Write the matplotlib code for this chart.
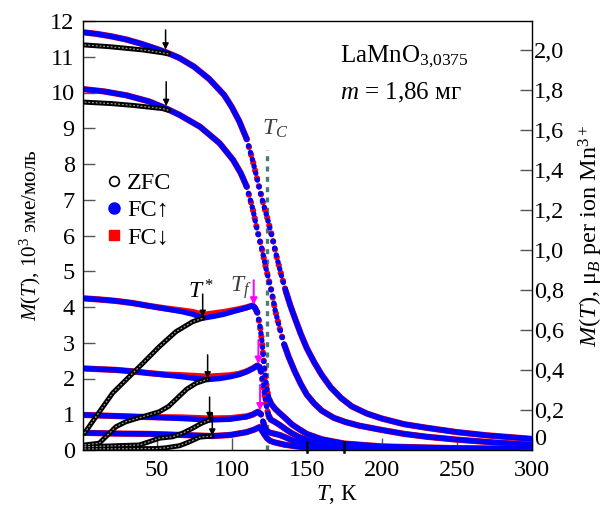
#!/usr/bin/env python3
"""M(T) of LaMnO3.0375: ZFC / FC-cooling / FC-warming curves at several fields."""

import numpy as np
import matplotlib.pyplot as plt
from matplotlib.lines import Line2D

plt.rcParams["font.family"] = ["Liberation Serif", "DejaVu Serif"]
plt.rcParams["mathtext.fontset"] = "custom"
plt.rcParams["mathtext.rm"] = "Liberation Serif"
plt.rcParams["mathtext.it"] = "Liberation Serif:italic"

# ---- data (T in K, M in 10^3 emu/mol) ----
# group 1 (largest field)
T_g1 = [2, 10, 20, 30, 40, 50, 56, 65, 75, 85, 95, 100, 105, 110, 114, 118, 121, 124, 127,
        130, 133, 136, 139, 142, 146, 150, 155, 160, 166, 173, 180, 190, 200, 215, 230, 250, 270, 300]
fc_up_g1 = [11.68, 11.64, 11.57, 11.48, 11.36, 11.22, 11.13, 10.97, 10.72, 10.38, 9.93, 9.6, 9.2,
            8.7, 8.1, 7.4, 6.9, 6.45, 5.95, 5.4, 4.9, 4.45, 4.05, 3.7, 3.25, 2.85, 2.45, 2.1, 1.75,
            1.45, 1.22, 1.02, 0.88, 0.72, 0.62, 0.5, 0.41, 0.31]
T_zfc_g1 = [2, 19, 41, 54, 58]
zfc_g1 = [11.33, 11.28, 11.19, 11.11, 11.08]

# group 2
T_g2 = [2, 15, 30, 45, 56, 65, 79, 92, 101, 106, 110, 114, 117, 120, 123, 126.5, 129, 132, 135,
        138, 142, 146, 150, 155, 160, 168, 176, 185, 200, 215, 230, 250, 275, 300]
fc_up_g2 = [10.09, 10.03, 9.92, 9.75, 9.56, 9.38, 9.04, 8.58, 8.11, 7.75, 7.37, 6.75, 6.15, 5.65,
            5.05, 4.45, 3.9, 3.4, 2.95, 2.6, 2.2, 1.85, 1.55, 1.3, 1.1, 0.9, 0.78, 0.68, 0.56,
            0.45, 0.37, 0.29, 0.21, 0.15]
T_zfc_g2 = [2, 20, 34, 54, 58]
zfc_g2 = [9.73, 9.69, 9.64, 9.55, 9.5]

# group 3
T_g3 = [2, 12, 23, 34, 45, 56, 67, 74, 81, 88, 95, 100, 105, 110, 114, 115.5, 117, 118, 119, 120,
        121, 122, 123, 124, 125, 126.5, 129, 132, 136, 140, 145, 150, 160, 175, 200, 250, 300]
fc_up_g3 = [4.24, 4.21, 4.17, 4.11, 4.03, 3.95, 3.87, 3.8, 3.69, 3.74, 3.8, 3.86, 3.92, 3.98,
            4.04, 3.98, 3.85, 3.65, 3.42, 3.1, 2.65, 2.2, 1.85, 1.6, 1.42, 1.28, 1.15, 1.03,
            0.88, 0.72, 0.58, 0.45, 0.3, 0.18, 0.1, 0.05, 0.03]
fc_dn_g3 = [4.24, 4.21, 4.17, 4.11, 4.03, 3.96, 3.9, 3.86, 3.78, 3.82, 3.86, 3.9, 3.94, 3.99,
            4.04, 3.98, 3.85, 3.65, 3.42, 3.1, 2.65, 2.2, 1.85, 1.6, 1.42, 1.28, 1.15, 1.03,
            0.88, 0.72, 0.58, 0.45, 0.3, 0.18, 0.1, 0.05, 0.03]
T_zfc_g3 = [2, 9.6, 20.7, 29.6, 40.7, 51.8, 62.9, 74, 81]
zfc_g3 = [0.47, 0.93, 1.59, 1.96, 2.42, 2.89, 3.31, 3.59, 3.69]

# group 4
T_g4 = [2, 12, 23, 34, 45, 56, 67, 76, 84, 92, 99, 105, 110, 114, 117, 118.5, 119.5, 120.5,
        121.5, 122.5, 123.5, 124.5, 126, 129, 132, 136, 140, 145, 150, 160, 175, 200, 300]
fc_up_g4 = [2.28, 2.26, 2.24, 2.2, 2.15, 2.1, 2.05, 2.0, 1.97, 2.0, 2.05, 2.11, 2.19, 2.28, 2.36,
            2.33, 2.2, 1.95, 1.65, 1.38, 1.15, 0.98, 0.85, 0.78, 0.7, 0.58, 0.47, 0.36, 0.28,
            0.18, 0.1, 0.06, 0.02]
fc_dn_g4 = [2.28, 2.26, 2.24, 2.2, 2.15, 2.11, 2.09, 2.07, 2.05, 2.07, 2.09, 2.13, 2.2, 2.28, 2.36,
            2.33, 2.2, 1.95, 1.65, 1.38, 1.15, 0.98, 0.85, 0.78, 0.7, 0.58, 0.47, 0.36, 0.28,
            0.18, 0.1, 0.06, 0.02]
T_zfc_g4 = [2, 11.8, 16.2, 22.9, 29.6, 40.7, 51.8, 58, 65, 70, 76.4, 84]
zfc_g4 = [0.14, 0.19, 0.37, 0.65, 0.79, 0.93, 1.07, 1.22, 1.5, 1.7, 1.87, 1.98]

# group 5
T_g5 = [2, 23, 45, 67, 85, 99, 110, 114, 117.5, 119.5, 121, 122, 123, 124.5, 127, 132, 136,
        140, 145, 150, 160, 180, 220, 300]
fc_up_g5 = [0.98, 0.95, 0.92, 0.88, 0.84, 0.86, 0.93, 0.99, 1.07, 1.0, 0.78, 0.65, 0.56, 0.5,
            0.47, 0.42, 0.35, 0.28, 0.21, 0.16, 0.1, 0.05, 0.03, 0.01]
fc_dn_g5 = [0.98, 0.95, 0.92, 0.91, 0.88, 0.89, 0.94, 0.99, 1.07, 1.0, 0.78, 0.65, 0.56, 0.5,
            0.47, 0.42, 0.35, 0.28, 0.21, 0.16, 0.1, 0.05, 0.03, 0.01]
T_zfc_g5 = [2, 38.4, 45, 51.8, 60.7, 67.3, 74, 80, 85.3]
zfc_g5 = [0.09, 0.14, 0.23, 0.33, 0.37, 0.47, 0.61, 0.75, 0.84]

# group 6 (smallest field)
T_g6 = [2, 23, 45, 67, 87, 99, 110, 115, 118.5, 120.5, 122, 123.5, 125.5, 128, 135, 145, 160,
        180, 300]
fc_up_g6 = [0.48, 0.46, 0.45, 0.42, 0.39, 0.42, 0.5, 0.57, 0.64, 0.52, 0.42, 0.33, 0.26, 0.22,
            0.15, 0.09, 0.05, 0.03, 0.01]
T_zfc_g6 = [2, 50, 56, 65.3, 72, 78.7, 87]
zfc_g6 = [0.03, 0.04, 0.06, 0.12, 0.23, 0.36, 0.39]

# arrows: T position, tail M, head M
black_arrow_T = [56, 56.4, 80.7, 84, 85.3, 87.1]
black_arrow_from = [11.75, 10.3, 4.36, 2.66, 1.48, 1.03]
black_arrow_to = [11.2, 9.62, 3.72, 2.0, 0.86, 0.4]
tf_arrow_T = [114.7, 117.8, 118.9]
tf_arrow_from = [4.75, 3.08, 1.82]
tf_arrow_to = [4.06, 2.4, 1.1]
T_C = 123.3
extra_marks_T = [150, 175]

emu_per_muB = 5.594   # 10^3 emu/mol per mu_B/Mn

BLUE = "#0000ff"
RED = "#ff0000"


def draw_fc(ax, T, M, color, lw, z):
    """Thick solid line where the curve is flat, dotted where it drops steeply."""
    T = np.asarray(T, float)
    M = np.asarray(M, float)
    steep = np.abs(np.diff(M) / np.diff(T)) > 0.14
    start = 0
    for i in range(1, len(steep) + 1):
        if i == len(steep) or steep[i] != steep[start]:
            sl = slice(start, i + 1)
            if steep[start]:
                ax.plot(T[sl], M[sl], color=color, lw=lw, ls=(0, (0.05, 1.25)),
                        dash_capstyle="round", zorder=z)
            else:
                ax.plot(T[sl], M[sl], color=color, lw=lw, solid_capstyle="round", zorder=z)
            start = i


def draw_zfc(ax, T, M):
    ax.plot(T, M, color="black", lw=3.6, solid_capstyle="round", zorder=5)
    ax.plot(T, M, color="#9a9a9a", lw=0.9, ls=(0, (1.5, 1.5)), zorder=6)


fig = plt.figure(figsize=(6.13, 5.08), dpi=100)
ax = fig.add_axes([83 / 613, 58 / 508, 449 / 613, 429 / 508])

groups = [
    (T_g1, fc_up_g1, fc_up_g1, T_zfc_g1, zfc_g1),
    (T_g2, fc_up_g2, fc_up_g2, T_zfc_g2, zfc_g2),
    (T_g3, fc_up_g3, fc_dn_g3, T_zfc_g3, zfc_g3),
    (T_g4, fc_up_g4, fc_dn_g4, T_zfc_g4, zfc_g4),
    (T_g5, fc_up_g5, fc_dn_g5, T_zfc_g5, zfc_g5),
    (T_g6, fc_up_g6, fc_up_g6, T_zfc_g6, zfc_g6),
]
for T, up, dn, Tz, z in groups:
    draw_fc(ax, T, dn, RED, 4.5, 3)
    draw_fc(ax, T, up, BLUE, 3.9, 4)
    draw_zfc(ax, Tz, z)

# T_C line
ax.plot([T_C, T_C], [0, 8.4], color="#4b7c78", lw=2.4, ls=(0, (1.5, 1.6)), zorder=2)

for t, m0, m1 in zip(black_arrow_T, black_arrow_from, black_arrow_to):
    ax.annotate("", xy=(t, m1), xytext=(t, m0),
                arrowprops=dict(arrowstyle="-|>", color="black", lw=1.1,
                                mutation_scale=9, shrinkA=0, shrinkB=0), zorder=8)
for t, m0, m1 in zip(tf_arrow_T, tf_arrow_from, tf_arrow_to):
    ax.annotate("", xy=(t, m1), xytext=(t, m0),
                arrowprops=dict(arrowstyle="-|>", color="#ff00ff", lw=1.4,
                                mutation_scale=10, shrinkA=0, shrinkB=0), zorder=8)
for t in extra_marks_T:
    ax.plot([t, t], [-0.05, 0.22], color="black", lw=1.8, zorder=9, clip_on=False)

ax.set_xlim(1, 300)
ax.set_ylim(0, 12)
ax.set_xticks([50, 100, 150, 200, 250, 300])
ax.set_yticks(range(0, 13))
ax.tick_params(direction="in", length=8.5, width=1, color="#555555", labelsize=17.5)
ax.tick_params(axis="y", pad=6)
ax.tick_params(axis="x", pad=7)
ax.tick_params(top=False, right=False)
for s in ax.spines.values():
    s.set_color("#333333")
    s.set_linewidth(1)

ax2 = ax.twinx()
ax2.set_ylim(0, 12 / emu_per_muB)
r_ticks = np.arange(0, 2.01, 0.2)
ax2.set_yticks(r_ticks)
ax2.set_yticklabels(["0"] + [f"{v:.1f}".replace(".", ",") for v in r_ticks[1:]])
ax2.tick_params(direction="in", length=8.5, width=1, color="#555555", labelsize=17.5, pad=1.5)
ax2.get_yticklabels()[0].set_verticalalignment("bottom")

ax.set_xlabel("$T$, К", fontsize=16.5)
ax.xaxis.set_label_coords(0.565, -0.078)
ax.set_ylabel("$M(T)$, 10$^3$ эме/моль", fontsize=15.2, labelpad=5)
ax2.set_ylabel("$M(T)$, μ$_B$ per ion Mn$^{3+}$", fontsize=17.5, labelpad=9)

ax.text(0.572, 0.904, "LaMnO$_{3{,}0375}$", transform=ax.transAxes, fontsize=18)
ax.text(0.572, 0.816, "$m$ = 1,86 мг", transform=ax.transAxes, fontsize=18)
ax.text(0.398, 0.735, "$T_C$", transform=ax.transAxes, fontsize=17, color="#404040")
ax.text(0.234, 0.354, "$T^*$", transform=ax.transAxes, fontsize=17)
ax.text(0.327, 0.368, "$T_f$", transform=ax.transAxes, fontsize=17, color="#404040")

handles = [
    Line2D([], [], ls="none", marker="o", ms=7, mfc="white", mec="black", mew=1.2),
    Line2D([], [], ls="none", marker="o", ms=8, mfc=BLUE, mec=BLUE),
    Line2D([], [], ls="none", marker="s", ms=7, mfc=RED, mec=RED),
]
ax.legend(handles, ["ZFC", "FC↑", "FC↓"], loc="upper left", bbox_to_anchor=(0.05, 0.648),
          frameon=False, fontsize=17.5, handlelength=0.7, handletextpad=0.2,
          labelspacing=0.22, borderaxespad=0, borderpad=0)

fig.savefig("out.png", dpi=100)
